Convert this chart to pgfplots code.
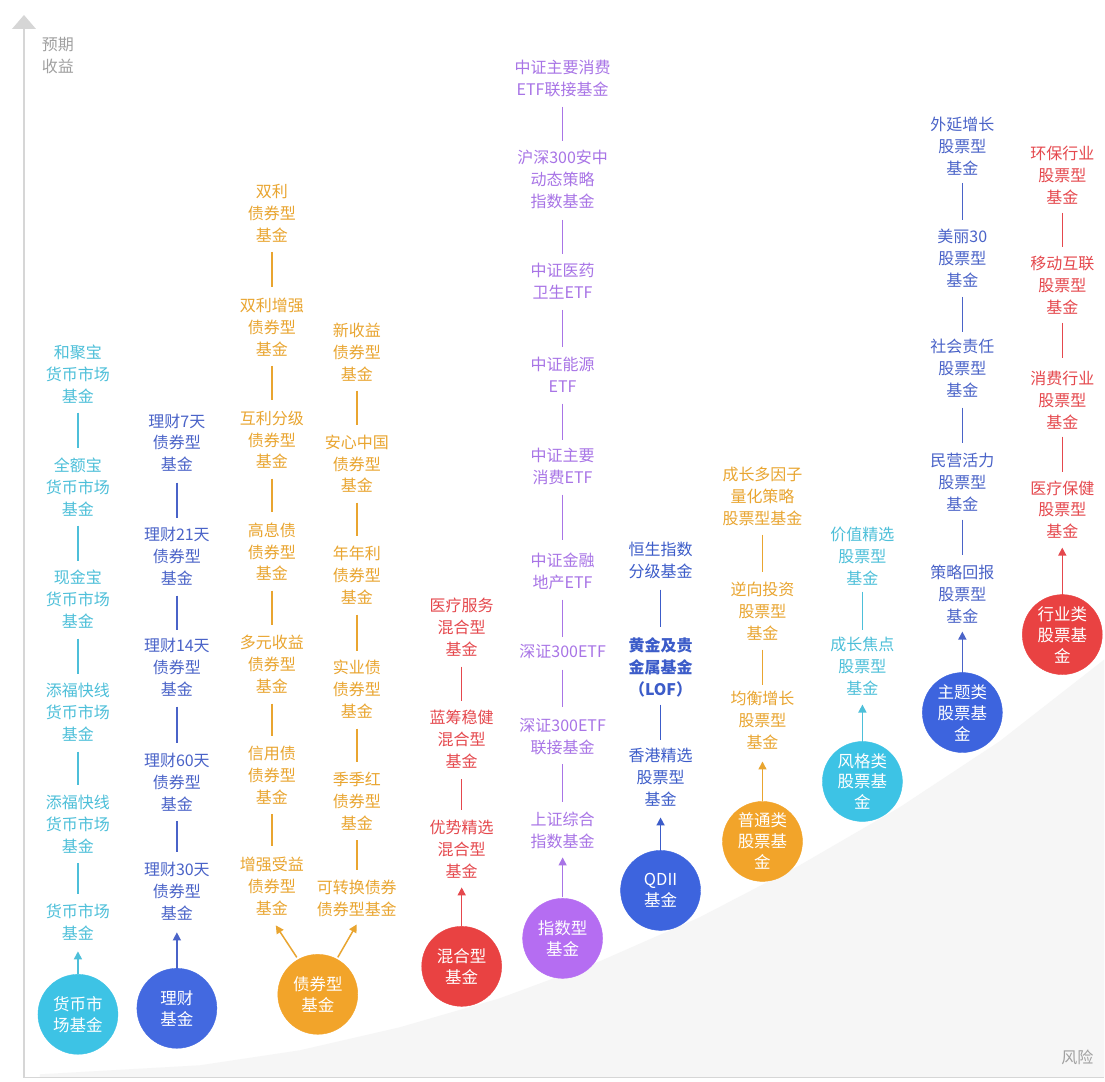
\documentclass[border=0pt]{standalone}
\usepackage{pgfplots}
\pgfplotsset{compat=1.18}
\usepackage{fontspec}
\setmainfont{Noto Sans CJK SC}
\usetikzlibrary{arrows.meta}
\definecolor{cyanT}{HTML}{4DBFD9}
\definecolor{cyanC}{HTML}{3DC3E5}
\definecolor{blueT}{HTML}{4A63C8}
\definecolor{blueC}{HTML}{4369E0}
\definecolor{orangeT}{HTML}{E9A530}
\definecolor{orangeC}{HTML}{F2A42A}
\definecolor{redT}{HTML}{E5484D}
\definecolor{redC}{HTML}{E94242}
\definecolor{purpleT}{HTML}{A874E6}
\definecolor{purpleC}{HTML}{B56DF2}
\definecolor{qdiiT}{HTML}{3C5CC9}
\definecolor{qdiiC}{HTML}{3D64DE}
\definecolor{axgray}{HTML}{D6D6D6}
\definecolor{bggray}{HTML}{F6F6F6}
\definecolor{lblgray}{HTML}{A0A0A0}
\newcommand{\lbl}[4]{\node[text=#3,align=center,inner sep=0pt,font={\fontsize{16}{22}\selectfont}] at (axis cs:#1,#2) {#4};}
\newcommand{\clbl}[3]{\node[text=white,align=center,inner sep=0pt,font={\fontsize{16.5}{21}\selectfont}] at (axis cs:#1,#2) {#3};}
\begin{document}
\begin{tikzpicture}
\begin{axis}[width=1105pt,height=1082pt,scale only axis,
  xmin=0,xmax=1105,ymin=0,ymax=1082,y dir=reverse,
  axis lines=none,clip=false,clip mode=individual,unbounded coords=jump]
% background
\addplot[fill=white,draw=none] coordinates {(0,0)(1105,0)(1105,1082)(0,1082)};
\addplot[fill=bggray,draw=none] coordinates {(40,1078)(40,1075)(200,1066)(300,1051)(400,1028)(500,999)(600,962)(700,918)(800,866)(900,808)(1000,742)(1105,660)(1105,1078)};
% axes
\addplot[axgray,line width=1.5pt] coordinates {(24,28)(24,1078)(1105,1078)};
\addplot[fill=axgray,draw=none] coordinates {(12,29)(24,15)(36,29)};
\lbl{58}{56}{lblgray}{预期\\收益}
\lbl{1078}{1058}{lblgray}{风险}
% ---------- column 1: money market
\addplot[cyanT,line width=1.5pt] coordinates {(78,413)(78,448)(78,nan)(78,526)(78,561)(78,nan)(78,639)(78,674)(78,nan)(78,752)(78,786)(78,nan)(78,864)(78,895)};
\addplot[cyanT,line width=1.5pt,-{Triangle[length=8pt,width=8pt]}] coordinates {(78,975)(78,952)};
\addplot[only marks,mark=*,mark size=40pt,mark options={fill=cyanC,draw=cyanC}] coordinates {(78,1015)};
\lbl{78}{374}{cyanT}{和聚宝\\货币市场\\基金}
\lbl{78}{487}{cyanT}{全额宝\\货币市场\\基金}
\lbl{78}{600}{cyanT}{现金宝\\货币市场\\基金}
\lbl{78}{713}{cyanT}{添福快线\\货币市场\\基金}
\lbl{78}{825}{cyanT}{添福快线\\货币市场\\基金}
\lbl{78}{923}{cyanT}{货币市场\\基金}
\clbl{78}{1015}{货币市\\场基金}
% ---------- column 2: 理财
\addplot[blueT,line width=1.5pt] coordinates {(177,483)(177,518)(177,nan)(177,596)(177,630)(177,nan)(177,707)(177,743)(177,nan)(177,822)(177,853)};
\addplot[blueT,line width=1.5pt,-{Triangle[length=8pt,width=8pt]}] coordinates {(177,970)(177,933)};
\addplot[only marks,mark=*,mark size=40pt,mark options={fill=blueC,draw=blueC}] coordinates {(177,1009)};
\lbl{177}{443}{blueT}{理财7天\\债券型\\基金}
\lbl{177}{557}{blueT}{理财21天\\债券型\\基金}
\lbl{177}{668}{blueT}{理财14天\\债券型\\基金}
\lbl{177}{783}{blueT}{理财60天\\债券型\\基金}
\lbl{177}{892}{blueT}{理财30天\\债券型\\基金}
\clbl{177}{1009}{理财\\基金}
% ---------- column 3: bonds
\addplot[orangeT,line width=1.5pt] coordinates {(272,252)(272,287)(272,nan)(272,366)(272,400)(272,nan)(272,479)(272,512)(272,nan)(272,591)(272,625)(272,nan)(272,704)(272,736)(272,nan)(272,815)(272,847)};
\addplot[orangeT,line width=1.5pt] coordinates {(357,391)(357,425)(357,nan)(357,503)(357,536)(357,nan)(357,615)(357,651)(357,nan)(357,729)(357,763)(357,nan)(357,841)(357,871)};
\addplot[orangeT,line width=1.5pt,-{Triangle[length=8pt,width=8pt]}] coordinates {(297,958)(276,926)};
\addplot[orangeT,line width=1.5pt,-{Triangle[length=8pt,width=8pt]}] coordinates {(338,958)(357,925)};
\addplot[only marks,mark=*,mark size=40pt,mark options={fill=orangeC,draw=orangeC}] coordinates {(318,995)};
\lbl{272}{213}{orangeT}{双利\\债券型\\基金}
\lbl{272}{327}{orangeT}{双利增强\\债券型\\基金}
\lbl{272}{440}{orangeT}{互利分级\\债券型\\基金}
\lbl{272}{552}{orangeT}{高息债\\债券型\\基金}
\lbl{272}{665}{orangeT}{多元收益\\债券型\\基金}
\lbl{272}{776}{orangeT}{信用债\\债券型\\基金}
\lbl{272}{887}{orangeT}{增强受益\\债券型\\基金}
\lbl{357}{352}{orangeT}{新收益\\债券型\\基金}
\lbl{357}{464}{orangeT}{安心中国\\债券型\\基金}
\lbl{357}{576}{orangeT}{年年利\\债券型\\基金}
\lbl{357}{690}{orangeT}{实业债\\债券型\\基金}
\lbl{357}{802}{orangeT}{季季红\\债券型\\基金}
\lbl{357}{899}{orangeT}{可转换债券\\债券型基金}
\clbl{318}{995}{债券型\\基金}
% ---------- column 4: mixed
\addplot[redT,line width=1.5pt] coordinates {(462,667)(462,701)(462,nan)(462,780)(462,811)};
\addplot[redT,line width=1.5pt,-{Triangle[length=8pt,width=8pt]}] coordinates {(462,927)(462,888)};
\addplot[only marks,mark=*,mark size=40pt,mark options={fill=redC,draw=redC}] coordinates {(462,967)};
\lbl{462}{628}{redT}{医疗服务\\混合型\\基金}
\lbl{462}{740}{redT}{蓝筹稳健\\混合型\\基金}
\lbl{462}{850}{redT}{优势精选\\混合型\\基金}
\clbl{462}{967}{混合型\\基金}
% ---------- column 5: index
\addplot[purpleT,line width=1.5pt] coordinates {(563,107)(563,141)(563,nan)(563,220)(563,254)(563,nan)(563,310)(563,347)(563,nan)(563,404)(563,440)(563,nan)(563,495)(563,540)(563,nan)(563,600)(563,637)(563,nan)(563,670)(563,707)(563,nan)(563,765)(563,803)};
\addplot[purpleT,line width=1.5pt,-{Triangle[length=8pt,width=8pt]}] coordinates {(563,898)(563,858)};
\addplot[only marks,mark=*,mark size=40pt,mark options={fill=purpleC,draw=purpleC}] coordinates {(563,939)};
\lbl{563}{79}{purpleT}{中证主要消费\\ETF联接基金}
\lbl{563}{180}{purpleT}{沪深300安中\\动态策略\\指数基金}
\lbl{563}{281}{purpleT}{中证医药\\卫生ETF}
\lbl{563}{375}{purpleT}{中证能源\\ETF}
\lbl{563}{467}{purpleT}{中证主要\\消费ETF}
\lbl{563}{572}{purpleT}{中证金融\\地产ETF}
\lbl{563}{652}{purpleT}{深证300ETF}
\lbl{563}{737}{purpleT}{深证300ETF\\联接基金}
\lbl{563}{831}{purpleT}{上证综合\\指数基金}
\clbl{563}{939}{指数型\\基金}
% ---------- column 6: QDII
\addplot[qdiiT,line width=1.5pt] coordinates {(661,590)(661,627)(661,nan)(661,705)(661,740)};
\addplot[qdiiT,line width=1.5pt,-{Triangle[length=8pt,width=8pt]}] coordinates {(661,852)(661,818)};
\addplot[only marks,mark=*,mark size=40pt,mark options={fill=qdiiC,draw=qdiiC}] coordinates {(661,891)};
\lbl{661}{561}{qdiiT}{恒生指数\\分级基金}
\lbl{661}{668}{qdiiT}{\bfseries 黄金及贵\\\bfseries 金属基金\\\bfseries （LOF）}
\lbl{661}{778}{qdiiT}{香港精选\\股票型\\基金}
\clbl{661}{891}{QDII\\基金}
% ---------- column 7: general equity
\addplot[orangeT,line width=1.5pt] coordinates {(763,535)(763,572)(763,nan)(763,650)(763,685)};
\addplot[orangeT,line width=1.5pt,-{Triangle[length=8pt,width=8pt]}] coordinates {(763,802)(763,762)};
\addplot[only marks,mark=*,mark size=40pt,mark options={fill=orangeC,draw=orangeC}] coordinates {(763,842)};
\lbl{763}{497}{orangeT}{成长多因子\\量化策略\\股票型基金}
\lbl{763}{612}{orangeT}{逆向投资\\股票型\\基金}
\lbl{763}{721}{orangeT}{均衡增长\\股票型\\基金}
\clbl{763}{842}{普通类\\股票基\\金}
% ---------- column 8: style
\addplot[cyanT,line width=1.5pt] coordinates {(863,592)(863,630)};
\addplot[cyanT,line width=1.5pt,-{Triangle[length=8pt,width=8pt]}] coordinates {(863,742)(863,705)};
\addplot[only marks,mark=*,mark size=40pt,mark options={fill=cyanC,draw=cyanC}] coordinates {(863,782)};
\lbl{863}{557}{cyanT}{价值精选\\股票型\\基金}
\lbl{863}{667}{cyanT}{成长焦点\\股票型\\基金}
\clbl{863}{782}{风格类\\股票基\\金}
% ---------- column 9: theme
\addplot[blueT,line width=1.5pt] coordinates {(963,183)(963,220)(963,nan)(963,297)(963,332)(963,nan)(963,408)(963,443)(963,nan)(963,520)(963,555)};
\addplot[blueT,line width=1.5pt,-{Triangle[length=8pt,width=8pt]}] coordinates {(963,673)(963,632)};
\addplot[only marks,mark=*,mark size=40pt,mark options={fill=qdiiC,draw=qdiiC}] coordinates {(963,713)};
\lbl{963}{146}{blueT}{外延增长\\股票型\\基金}
\lbl{963}{258}{blueT}{美丽30\\股票型\\基金}
\lbl{963}{368}{blueT}{社会责任\\股票型\\基金}
\lbl{963}{483}{blueT}{民营活力\\股票型\\基金}
\lbl{963}{595}{blueT}{策略回报\\股票型\\基金}
\clbl{963}{713}{主题类\\股票基\\金}
% ---------- column 10: industry
\addplot[redT,line width=1.5pt] coordinates {(1063,213)(1063,247)(1063,nan)(1063,323)(1063,358)(1063,nan)(1063,437)(1063,472)};
\addplot[redT,line width=1.5pt,-{Triangle[length=8pt,width=8pt]}] coordinates {(1063,595)(1063,548)};
\addplot[only marks,mark=*,mark size=40pt,mark options={fill=redC,draw=redC}] coordinates {(1063,635)};
\lbl{1063}{175}{redT}{环保行业\\股票型\\基金}
\lbl{1063}{285}{redT}{移动互联\\股票型\\基金}
\lbl{1063}{400}{redT}{消费行业\\股票型\\基金}
\lbl{1063}{510}{redT}{医疗保健\\股票型\\基金}
\clbl{1063}{635}{行业类\\股票基\\金}
\end{axis}
\end{tikzpicture}
\end{document}
